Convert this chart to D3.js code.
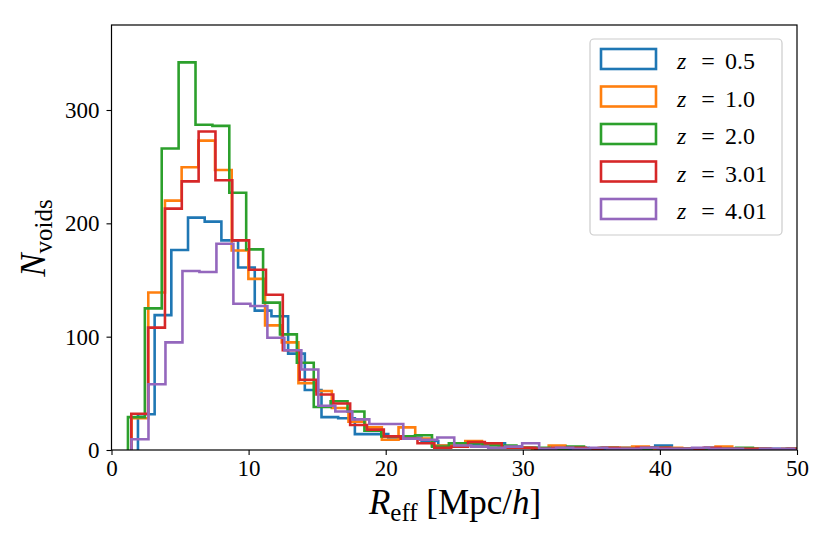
<!DOCTYPE html>
<html>
<head>
<meta charset="utf-8">
<script src="https://cdn.jsdelivr.net/npm/d3@7"></script>
<style>
  html, body { margin: 0; padding: 0; background: #fff; }
  svg text { font-family: "Liberation Serif", "DejaVu Serif", serif; fill: #000; }
</style>
</head>
<body>
<svg id="chart" width="830" height="554"></svg>
<script>
// ---- data ----
const seriesLabels = ["0.5", "1.0", "2.0", "3.01", "4.01"];
const seriesColors = ["#1f77b4", "#ff7f0e", "#2ca02c", "#d62728", "#9467bd"];
// first bin edge and bin width (Mpc/h) of each histogram
const binStart = [1.93, 1.465, 1.20, 1.443, 1.458];
const binWidth = [1.217, 1.217, 1.232, 1.228, 1.239];
// counts per bin
const countsZ05 = [31.5, 119, 176.5, 205, 201.5, 185, 161, 123, 118, 85, 53, 29, 28, 14, 14, 11, 11, 8, 4, 6,
                   5, 6, 3, 2, 1, 1, 2, 1, 1, 2, 2, 4, 1, 1, 2, 1, 0, 1, 1, 0];
const countsZ10 = [28, 139, 220, 249.5, 273, 247, 176, 151, 110, 95, 59, 52, 37, 25, 20, 9, 20, 10, 4, 4,
                   8, 5, 2, 2, 1, 4, 2, 1, 2, 2, 3, 1, 2, 1, 1, 3, 1, 1, 0, 1];
const countsZ20 = [29, 125, 266, 342, 287, 286, 227, 177, 130, 102, 77, 38, 43, 34, 17, 12, 12, 13, 3, 6,
                   6, 4, 4, 2, 2, 1, 3, 1, 2, 1, 1, 2, 1, 1, 0, 1, 2, 1, 0, 1];
const countsZ301 = [32, 108, 213, 237, 281, 238, 185, 159, 137, 88, 62, 49, 41, 22, 18, 12, 10, 6, 2, 3,
                    7, 6, 2, 2, 1, 2, 2, 1, 2, 1, 2, 2, 1, 1, 2, 1, 1, 1, 0, 1];
const countsZ401 = [9.5, 58, 95, 158, 157, 182, 129, 127, 99, 88, 71, 39, 34, 27, 23, 23, 10, 9, 11, 4,
                    3, 2, 3, 6, 1, 2, 1, 2, 1, 1, 2, 1, 1, 2, 1, 1, 0, 1, 1, 0];
const allCounts = [countsZ05, countsZ10, countsZ20, countsZ301, countsZ401];
const xTicks = [0, 10, 20, 30, 40, 50];
const yTicks = [0, 100, 200, 300];
const xDomain = [0, 50];
const yDomain = [0, 375];

// ---- layout ----
const svg = d3.select("#chart");
const L = 111.5, R = 797, T = 25, B = 450;
const x = d3.scaleLinear().domain(xDomain).range([L, R]);
const y = d3.scaleLinear().domain(yDomain).range([B, T]);

svg.append("defs").append("clipPath").attr("id", "plotclip")
  .append("rect").attr("x", L).attr("y", T - 2).attr("width", R - L).attr("height", B - T + 2);

const plot = svg.append("g").attr("clip-path", "url(#plotclip)");

allCounts.forEach((counts, i) => {
  const pts = [];
  const e = k => binStart[i] + k * binWidth[i];
  pts.push([x(e(0)), y(0)]);
  counts.forEach((c, k) => {
    pts.push([x(e(k)), y(c)]);
    pts.push([x(e(k + 1)), y(c)]);
  });
  pts.push([x(e(counts.length)), y(0)]);
  plot.append("path")
    .attr("d", d3.line()(pts))
    .attr("fill", "none")
    .attr("stroke", seriesColors[i])
    .attr("stroke-width", 2.6)
    .attr("stroke-linejoin", "miter");
});

// axes
const xAxis = d3.axisBottom(x).tickValues(xTicks).tickSize(5).tickPadding(5).tickFormat(d3.format("d"));
const yAxis = d3.axisLeft(y).tickValues(yTicks).tickSize(5).tickPadding(7).tickFormat(d3.format("d"));
const gx = svg.append("g").attr("transform", `translate(0,${B})`).call(xAxis);
const gy = svg.append("g").attr("transform", `translate(${L},0)`).call(yAxis);
[gx, gy].forEach(g => {
  g.select(".domain").remove();
  g.selectAll(".tick line").attr("stroke", "#000").attr("stroke-width", 1.1);
  g.selectAll(".tick text").attr("font-size", 23).attr("font-family", "Liberation Serif, serif").attr("fill", "#000");
});

// frame
svg.append("rect").attr("x", L).attr("y", T).attr("width", R - L).attr("height", B - T)
  .attr("fill", "none").attr("stroke", "#000").attr("stroke-width", 1.2);

// axis labels
const xl = svg.append("text").attr("x", 455).attr("y", 514).attr("text-anchor", "middle").attr("font-size", 35);
xl.append("tspan").attr("font-style", "italic").text("R");
xl.append("tspan").attr("font-size", 25).attr("dy", 7).text("eff");
xl.append("tspan").attr("dy", -7).text(" [Mpc/");
xl.append("tspan").attr("font-style", "italic").text("h");
xl.append("tspan").text("]");

const yl = svg.append("text").attr("transform", "translate(45,238) rotate(-90)")
  .attr("text-anchor", "middle").attr("font-size", 35);
yl.append("tspan").attr("font-style", "italic").text("N");
yl.append("tspan").attr("font-size", 25).attr("dy", 7).text("voids");

// legend
const lg = svg.append("g");
lg.append("rect").attr("x", 590).attr("y", 39).attr("width", 192).attr("height", 196)
  .attr("rx", 4).attr("fill", "#fff").attr("fill-opacity", 0.8)
  .attr("stroke", "#cccccc").attr("stroke-width", 1.2);
seriesLabels.forEach((lab, i) => {
  const cy = 59 + i * 37.5;
  lg.append("rect").attr("x", 601).attr("y", cy - 10).attr("width", 55).attr("height", 20)
    .attr("fill", "none").attr("stroke", seriesColors[i]).attr("stroke-width", 2.6);
  lg.append("text").attr("x", 677).attr("y", cy + 10).attr("font-size", 24)
    .attr("font-style", "italic").text("z");
  lg.append("text").attr("x", 708).attr("y", cy + 10).attr("font-size", 24)
    .attr("text-anchor", "middle").text("=");
  lg.append("text").attr("x", 725).attr("y", cy + 10).attr("font-size", 24).text(lab);
});
</script>
</body>
</html>
